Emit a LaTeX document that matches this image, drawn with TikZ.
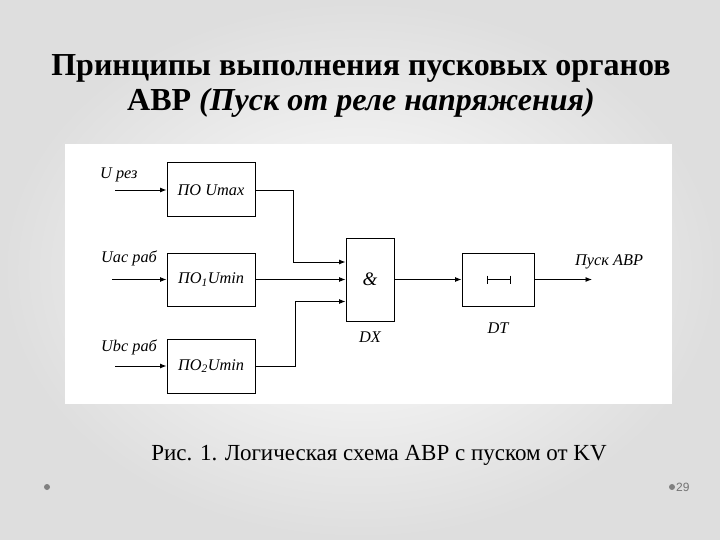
\documentclass[tikz,border=0pt]{standalone}
\usepackage{fontspec}
\setmainfont{Liberation Serif}[Ligatures=TeX]
\newfontfamily\serfont{Liberation Serif}
\newfontfamily\footfont{Liberation Sans}
\usetikzlibrary{arrows.meta,calc}
\begin{document}
\begin{tikzpicture}[x=1pt,y=-1pt,
  blk/.style={draw,line width=1pt,minimum width=88pt,minimum height=54pt,inner sep=0pt,font=\serfont\itshape\fontsize{16.3}{19}\selectfont},
  arr/.style={line width=0.9pt,-{Latex[length=6.5pt,width=5pt]}},
  lbl/.style={font=\serfont\itshape\fontsize{16.3}{19}\selectfont,inner sep=0pt}]
\useasboundingbox (0,0) rectangle (720,540);
\shade[inner color=white,outer color=black!13] (0,0) rectangle (720,540);
\fill[white] (64.5,144) rectangle (671.5,403.5);
% title
\node[font=\serfont\bfseries\fontsize{32}{35}\selectfont,align=center] (title) at (361,86)
  {Принципы выполнения пусковых органов\\АВР \textit{(Пуск от реле напряжения)}};
% blocks
\node[blk] (umax) at (211,190) {ПО Umax};
\node[blk,minimum height=53pt] (umin1) at (211,279.5) {ПО\textsubscript{1}Umin};
\node[blk] (umin2) at (211,366) {ПО\textsubscript{2}Umin};
\node[blk,minimum width=48pt,minimum height=83pt,font=\serfont\itshape\fontsize{19}{21}\selectfont] (and) at (370,279.5) {\&};
\node[blk,minimum width=72pt,minimum height=53pt] (dt) at (498,279.5) {};
\draw[line width=0.9pt] ($(dt.center)+(-11,0)$) -- ($(dt.center)+(12,0)$)
  ($(dt.center)+(-11,-4)$) -- ($(dt.center)+(-11,4)$)
  ($(dt.center)+(12,-4)$) -- ($(dt.center)+(12,4)$);
% labels
\node[lbl,anchor=west] (lres) at (100,175) {U рез};
\node[lbl,anchor=west] (lac) at (101,258) {Uас раб};
\node[lbl,anchor=west] (lbc) at (101,347) {Ubc раб};
\node[lbl,anchor=west] (lout) at (575,262) {Пуск АВР};
\node[lbl] (ldx) at (370,337) {DX};
\node[lbl] (ldt) at (498,328) {DT};
% inputs
\coordinate (in1) at (115,190);
\coordinate (in2) at (112,279.5);
\coordinate (in3) at (115,366);
\coordinate (out) at (592,279.5);
\draw[arr] (in1) -- (umax.west);
\draw[arr] (in2) -- (umin1.west);
\draw[arr] (in3) -- (umin2.west);
% connectors
\draw[arr] (umax.east) -- ++(38,0) |- ([yshift=17.5pt]and.west);
\draw[arr] (umin1.east) -- (and.west);
\draw[arr] (umin2.east) -- ++(40,0) |- ([yshift=-22pt]and.west);
\draw[arr] (and.east) -- (dt.west);
\draw[arr] (dt.east) -- (out);
% caption
\node[font=\serfont\fontsize{23}{27}\selectfont] (cap) at (379,455) {Рис. 1. Логическая схема АВР с пуском от KV};
% footer
\fill[black!50] (47,487) circle (3pt) coordinate (d1);
\fill[black!50] (672,487) circle (3pt) coordinate (d2);
\node[font=\footfont\fontsize{12}{14}\selectfont,text=black!55,anchor=west,inner sep=0pt] (pg) at (676,487) {29};
\end{tikzpicture}
\end{document}
